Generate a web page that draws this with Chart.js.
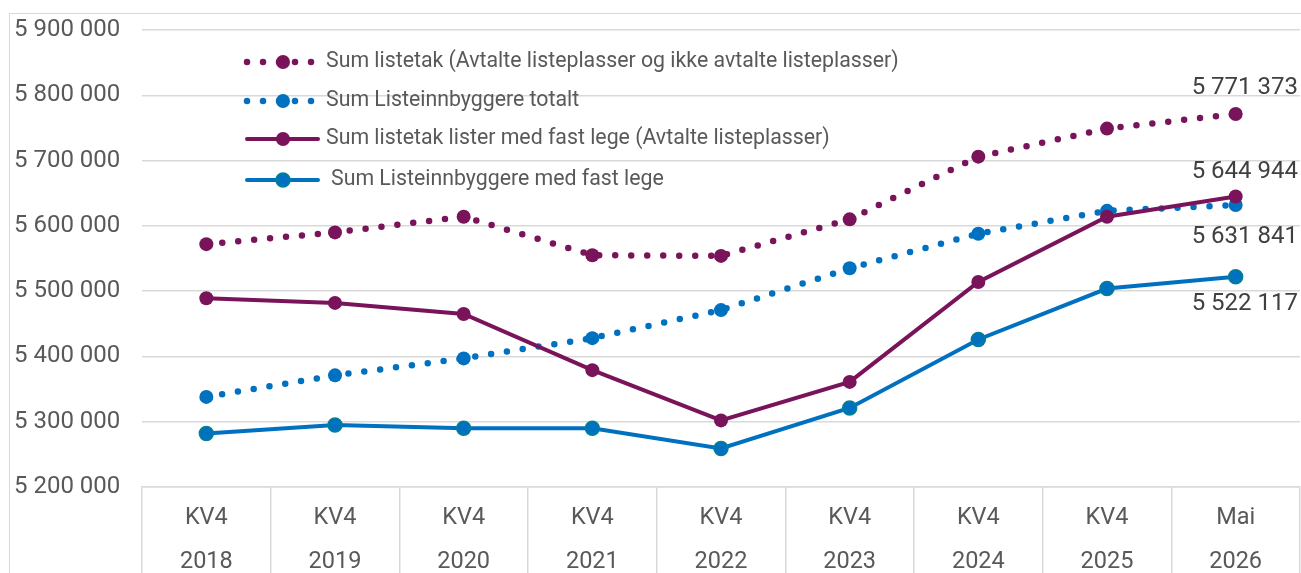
<!DOCTYPE html>
<html><head><meta charset="utf-8">
<script src="https://cdn.jsdelivr.net/npm/chart.js@4.4.1/dist/chart.umd.min.js"></script>
<style>
html,body{margin:0;padding:0;background:#fff;overflow:hidden;width:1301px;height:573px;}
#frame{position:absolute;left:9px;top:13px;width:1400px;height:700px;border-left:1.5px solid #d9d9d9;border-top:1.5px solid #d9d9d9;pointer-events:none;}
#wrap{position:absolute;left:0;top:0;width:1301px;height:600px;}
</style></head><body>
<div id="frame"></div>
<div id="wrap"><canvas id="c"></canvas></div>
<script>
const categories = [['KV4','2018'],['KV4','2019'],['KV4','2020'],['KV4','2021'],['KV4','2022'],['KV4','2023'],['KV4','2024'],['KV4','2025'],['Mai','2026']];
const yTickValues = [5200000,5300000,5400000,5500000,5600000,5700000,5800000,5900000];
const seriesNames = [
  'Sum listetak (Avtalte listeplasser og ikke avtalte listeplasser)',
  'Sum Listeinnbyggere totalt',
  'Sum listetak lister med fast lege (Avtalte listeplasser)',
  'Sum Listeinnbyggere med fast lege'
];
const listetakTotal      = [5572000,5590000,5614000,5555000,5554000,5610000,5706000,5749000,5771373];
const innbyggereTotalt   = [5338000,5371000,5397000,5428000,5471000,5535000,5588000,5623000,5631841];
const listetakFastLege   = [5489000,5482000,5465000,5379000,5302000,5361000,5514000,5614000,5644944];
const innbyggereFastLege = [5282000,5295000,5290000,5290000,5259000,5321000,5426000,5504000,5522117];

const PURPLE = '#79135A', BLUE = '#0070C0', TEAL = '#00838F';
const fmt = v => Math.round(v).toString().replace(/\B(?=(\d{3})+(?!\d))/g, ' ');

const legendPlugin = {
  id: 'customLegend',
  afterDraw(chart) {
    const ctx = chart.ctx;
    const rows = [62, 101, 139, 180];
    const textX = [326, 326, 326, 331];
    chart.data.datasets.forEach((ds, i) => {
      const y = rows[i];
      ctx.save();
      ctx.strokeStyle = ds.borderColor;
      ctx.lineWidth = ds.borderWidth;
      ctx.lineCap = 'round';
      ctx.setLineDash(ds.borderDash || []);
      ctx.beginPath();
      ctx.moveTo(247, y);
      ctx.lineTo(ds.borderDash ? 320 : 318, y);
      ctx.stroke();
      ctx.setLineDash([]);
      ctx.beginPath();
      ctx.arc(283, y, ds.pointRadius, 0, Math.PI * 2);
      ctx.fillStyle = ds.pointBackgroundColor;
      ctx.fill();
      if (ds.pointBorderWidth) { ctx.lineWidth = ds.pointBorderWidth; ctx.strokeStyle = ds.pointBorderColor; ctx.stroke(); }
      ctx.fillStyle = '#595959';
      ctx.font = '21.3px Roboto';
      ctx.textBaseline = 'middle';
      ctx.textAlign = 'left';
      ctx.fillText(ds.label, textX[i], y);
      ctx.restore();
    });
  }
};

const endLabelPlugin = {
  id: 'endLabels',
  afterDatasetsDraw(chart) {
    const ctx = chart.ctx;
    const ys = chart.scales.y;
    const offsets = [-26, 32, -25, 27];
    ctx.save();
    ctx.font = '24px Roboto';
    ctx.fillStyle = '#404040';
    ctx.textAlign = 'right';
    ctx.textBaseline = 'middle';
    chart.data.datasets.forEach((ds, i) => {
      const v = ds.data[ds.data.length - 1];
      ctx.fillText(fmt(v), chart.chartArea.right - 2, ys.getPixelForValue(v) + offsets[i]);
    });
    ctx.restore();
  }
};

new Chart(document.getElementById('c'), {
  type: 'line',
  data: {
    labels: categories,
    datasets: [
      { label: seriesNames[0], data: listetakTotal, borderColor: PURPLE, borderWidth: 6.5, borderDash: [0, 16], borderCapStyle: 'round',
        pointRadius: 7, pointBackgroundColor: PURPLE, pointBorderColor: PURPLE, pointBorderWidth: 0, order: 4 },
      { label: seriesNames[1], data: innbyggereTotalt, borderColor: BLUE, borderWidth: 6.5, borderDash: [0, 16], borderCapStyle: 'round',
        pointRadius: 7, pointBackgroundColor: BLUE, pointBorderColor: BLUE, pointBorderWidth: 0, order: 3 },
      { label: seriesNames[2], data: listetakFastLege, borderColor: PURPLE, borderWidth: 4,
        pointRadius: 7, pointBackgroundColor: PURPLE, pointBorderColor: PURPLE, pointBorderWidth: 0, order: 2 },
      { label: seriesNames[3], data: innbyggereFastLege, borderColor: BLUE, borderWidth: 4,
        pointRadius: 7, pointBackgroundColor: BLUE, pointBorderColor: TEAL, pointBorderWidth: 1.5, order: 1 }
    ]
  },
  options: {
    responsive: true,
    maintainAspectRatio: false,
    animation: false,
    layout: { autoPadding: false, padding: { left: 14, right: 1, top: 30, bottom: 0 } },
    plugins: { legend: { display: false }, tooltip: { enabled: false } },
    scales: {
      x: {
        offset: true,
        grid: { offset: true, drawOnChartArea: false, drawTicks: true, tickLength: 100, color: '#d9d9d9', lineWidth: 1.5 },
        border: { display: true, color: '#d9d9d9', width: 1.5 },
        ticks: { padding: -91, color: '#595959', font: { family: 'Roboto', size: 23.5, lineHeight: 1.872 }, maxRotation: 0, autoSkip: false },
        afterFit(scale) { scale.height = 113; }
      },
      y: {
        min: 5200000, max: 5900000,
        afterBuildTicks(scale) { scale.ticks = yTickValues.map(v => ({ value: v })); },
        grid: { drawTicks: false, color: '#d9d9d9', lineWidth: 1.5 },
        border: { display: false },
        ticks: { crossAlign: 'far', color: '#595959', font: { family: 'Roboto', size: 24 }, callback: v => fmt(v) },
        afterFit(scale) { scale.width = 128; }
      }
    }
  },
  plugins: [legendPlugin, endLabelPlugin]
});
</script>
</body></html>
